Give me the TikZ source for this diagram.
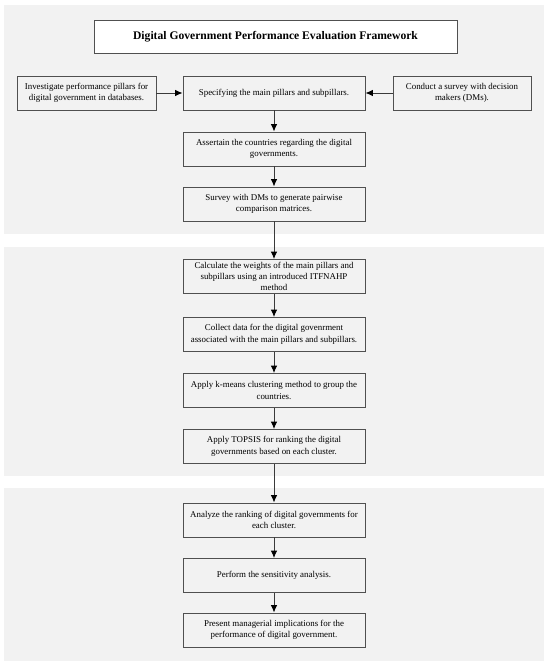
\documentclass[tikz,border=0pt]{standalone}
\usepackage{fontspec}
\setmainfont{Liberation Serif}
\usetikzlibrary{arrows.meta}
\definecolor{panelgray}{HTML}{F2F2F2}
\definecolor{boxgray}{HTML}{F2F2F2}
\definecolor{edgegray}{HTML}{505050}
\definecolor{linegray}{HTML}{3A3A3A}
\tikzset{
  panel/.style={fill=panelgray, draw=none},
  stepbox/.style={draw=edgegray, line width=0.9pt, fill=boxgray, minimum height=34pt,
    inner sep=1pt, align=center, font=\fontsize{8.9}{11.5}\selectfont},
  midbox/.style={stepbox, minimum width=182pt},
  sidebox/.style={stepbox, minimum width=139pt},
  titlebox/.style={draw=edgegray, line width=0.9pt, fill=white, minimum width=363pt,
    minimum height=33pt, font=\fontsize{11.6}{13}\selectfont\bfseries},
  flow/.style={draw=linegray, line width=0.9pt, -{Latex[length=7.5pt,width=6.5pt,color=black]}}
}
\begin{document}
\begin{tikzpicture}[x=1pt,y=1pt]
\useasboundingbox (0,0) rectangle (550,-666);
% panels
\fill[panel] (4,-5) rectangle (544,-234);
\fill[panel] (4,-247) rectangle (544,-476);
\fill[panel] (4,-488) rectangle (544,-661);
% nodes
\node[titlebox] (title) at (275.5,-36.5) {Digital Government Performance Evaluation Framework};
\node[sidebox] (left) at (86.5,-93) {Investigate performance pillars for\\digital government in databases.};
\node[midbox] (mid) at (274,-93) {Specifying the main pillars and subpillars.};
\node[sidebox, minimum width=138pt] (right) at (462,-93) {Conduct a survey with decision\\makers (DMs).};
\node[midbox] (assert) at (274,-149) {Assertain the countries regarding the digital\\governments.};
\node[midbox] (survey) at (274,-204) {Survey with DMs to generate pairwise\\comparison matrices.};
\node[midbox, font=\fontsize{8.9}{10.6}\selectfont] (calc) at (274,-276.5) {Calculate the weights of the main pillars and\\subpillars using an introduced ITFNAHP\\method};
\node[midbox] (collect) at (274,-334.5) {Collect data for the digital govenrment\\associated with the main pillars and subpillars.};
\node[midbox] (kmeans) at (274,-390.5) {Apply k-means clustering method to group the\\countries.};
\node[midbox] (topsis) at (274,-446.5) {Apply TOPSIS for ranking the digital\\governments based on each cluster.};
\node[midbox] (analyze) at (274,-520) {Analyze the ranking of digital governments for\\each cluster.};
\node[midbox] (perform) at (274,-575.5) {Perform the sensitivity analysis.};
\node[midbox] (present) at (274,-630) {Present managerial implications for the\\performance of digital government.};
% connectors
\draw[flow] (left) -- (mid);
\draw[flow] (right) -- (mid);
\draw[flow] (mid) -- (assert);
\draw[flow] (assert) -- (survey);
\draw[flow] (survey) -- (calc);
\draw[flow] (calc) -- (collect);
\draw[flow] (collect) -- (kmeans);
\draw[flow] (kmeans) -- (topsis);
\draw[flow] (topsis) -- (analyze);
\draw[flow] (analyze) -- (perform);
\draw[flow] (perform) -- (present);
\end{tikzpicture}
\end{document}
